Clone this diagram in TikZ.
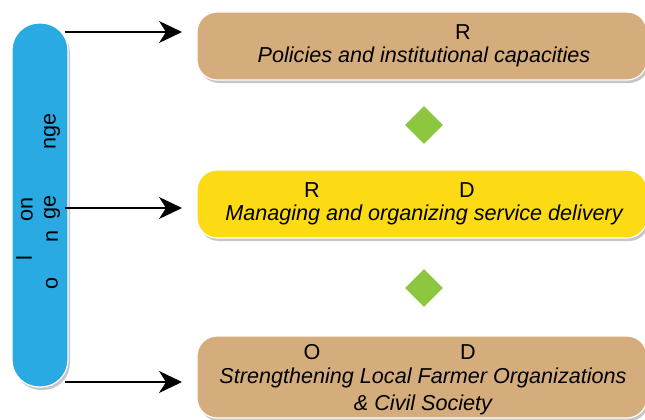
\documentclass[tikz,border=0pt]{standalone}
\usepackage{fontspec}
\setmainfont{Liberation Sans}
\usetikzlibrary{shapes.geometric,shadows,arrows.meta}
\definecolor{boxtan}{HTML}{D5AD7C}
\definecolor{boxyellow}{HTML}{FCDA14}
\definecolor{pillblue}{HTML}{29AAE2}
\definecolor{gemgreen}{HTML}{8CC63F}
\begin{document}
\begin{tikzpicture}[x=1pt, y=-1pt,
        shade box/.style = {draw = white, line width = 1.2pt, rounded corners = 20pt,
            drop shadow = {shadow xshift = 2pt, shadow yshift = -3pt, opacity = 0.45}},
        level/.style = {shade box, minimum width = 450pt},
        gem/.style = {diamond, fill = gemgreen, minimum size = 38pt, inner sep = 0pt},
        txt/.style = {font = \fontsize{21.6}{27}\selectfont, inner sep = 0pt},
        arr/.style = {-{Stealth[length = 23pt, width = 22pt, inset = 7pt]}, line width = 1.6pt}]
        \useasboundingbox (0, 0) rectangle (645, 420);
        % left bar
        \node[shade box, fill = pillblue, rounded corners = 27pt,
            minimum width = 56pt, minimum height = 364pt] (pill) at (40, 205) {};
        \node[txt, rotate = 90] (v1) at (24, 258) {l};
        \node[txt, rotate = 90] (v2) at (27, 209) {on};
        \node[txt, rotate = 90] (v3) at (52, 283) {o};
        \node[txt, rotate = 90] (v4) at (52, 236) {n};
        \node[txt, rotate = 90] (v5) at (52, 207) {ge};
        \node[txt, rotate = 90] (v6) at (52, 131) {nge};
        % the three levels
        \node[level, fill = boxtan, minimum height = 68pt] (b1) at (422, 46) {};
        \node[level, fill = boxyellow, minimum height = 68pt] (b2) at (422, 204) {};
        \node[level, fill = boxtan, minimum height = 82pt] (b3) at (422, 377) {};
        \node[txt] (r1) at (463, 32) {R};
        \node[txt] (l1) at (424, 57) {\itshape Policies and institutional capacities};
        \node[txt] (r2) at (312, 190) {R};
        \node[txt] (d2) at (467, 190) {D};
        \node[txt] (l2) at (424, 215) {\itshape Managing and organizing service delivery};
        \node[txt] (o3) at (312, 352) {O};
        \node[txt] (d3) at (468, 352) {D};
        \node[txt, align = center] (l3) at (423, 391)
            {\itshape Strengthening Local Farmer Organizations\\\itshape \& Civil Society};
        \node[gem] (g1) at (424, 125) {};
        \node[gem] (g2) at (424, 288) {};
        % arrows
        \coordinate (a1) at (182, 32);
        \coordinate (a2) at (182, 208);
        \coordinate (a3) at (182, 382);
        \foreach \i in {1, 2, 3}
            {\draw[arr] ([xshift = -4pt]pill.east |- a\i) -- (a\i);};
        \end{tikzpicture}
\end{document}
